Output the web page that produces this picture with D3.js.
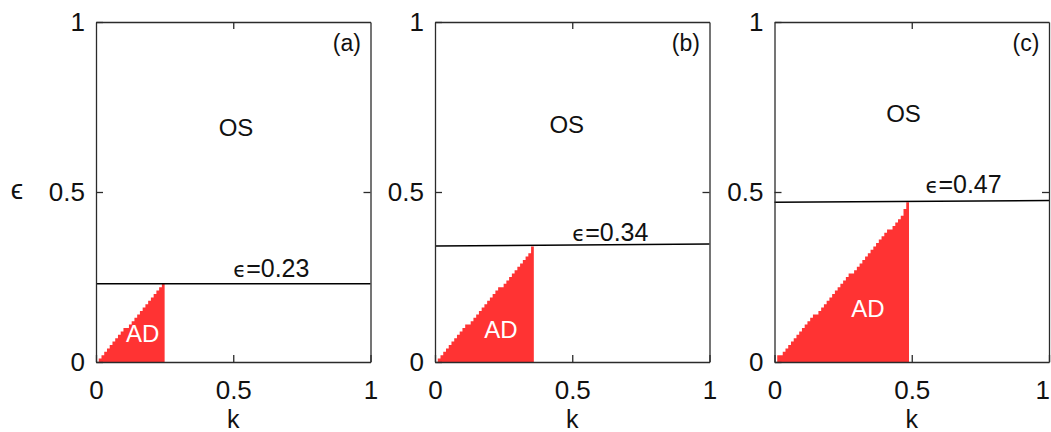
<!DOCTYPE html>
<html>
<head>
<meta charset="utf-8">
<script src="https://cdn.jsdelivr.net/npm/d3@7"></script>
<style>
  html, body { margin: 0; padding: 0; background: #fff; }
  svg { display: block; }
  text { font-family: "Liberation Sans", Arial, Helvetica, sans-serif; fill: #111; }
</style>
</head>
<body>
<svg id="chart" width="1051" height="432"></svg>
<script>
// ---- data ----
const panelLabels = ["(a)", "(b)", "(c)"];
const tickValues = [0, 0.5, 1];
const tickLabels = ["0", "0.5", "1"];
const cellWidth = 0.01;

// AD region: k (left edge of grid column) and upper epsilon bound of AD in that column
const kA = [0.01,0.02,0.03,0.04,0.05,0.06,0.07,0.08,0.09,0.10,0.11,0.12,0.13,0.14,0.15,0.16,0.17,0.18,0.19,0.20,0.21,0.22,0.23,0.24];
const topA = [0.01,0.02,0.03,0.04,0.05,0.06,0.07,0.08,0.09,0.10,0.10,0.11,0.12,0.13,0.14,0.15,0.16,0.17,0.18,0.19,0.20,0.21,0.22,0.23];

const kB = [0.01,0.02,0.03,0.04,0.05,0.06,0.07,0.08,0.09,0.10,0.11,0.12,0.13,0.14,0.15,0.16,0.17,0.18,0.19,0.20,0.21,0.22,0.23,0.24,0.25,0.26,0.27,0.28,0.29,0.30,0.31,0.32,0.33,0.34,0.35];
const topB = [0.01,0.02,0.03,0.04,0.05,0.06,0.07,0.08,0.09,0.10,0.11,0.11,0.12,0.13,0.14,0.15,0.16,0.17,0.18,0.19,0.20,0.21,0.22,0.22,0.23,0.24,0.25,0.26,0.27,0.28,0.29,0.30,0.31,0.32,0.34];

const kC = [0.01,0.02,0.03,0.04,0.05,0.06,0.07,0.08,0.09,0.10,0.11,0.12,0.13,0.14,0.15,0.16,0.17,0.18,0.19,0.20,0.21,0.22,0.23,0.24,0.25,0.26,0.27,0.28,0.29,0.30,0.31,0.32,0.33,0.34,0.35,0.36,0.37,0.38,0.39,0.40,0.41,0.42,0.43,0.44,0.45,0.46,0.47,0.48];
const topC = [0.02,0.02,0.03,0.04,0.05,0.06,0.07,0.08,0.09,0.10,0.11,0.12,0.13,0.14,0.14,0.15,0.16,0.17,0.18,0.19,0.20,0.21,0.22,0.23,0.24,0.25,0.26,0.26,0.27,0.28,0.29,0.30,0.31,0.32,0.33,0.34,0.35,0.36,0.37,0.38,0.39,0.39,0.40,0.41,0.42,0.43,0.45,0.47];

// threshold line: epsilon at k=0 and k=1
const lineA = [0.23, 0.23];
const lineB = [0.341, 0.347];
const lineC = [0.47, 0.475];
const lineLabels = ["0.23", "0.34", "0.47"];

// text annotation anchors (data coords)
const osPos = [[0.51, 0.665], [0.48, 0.675], [0.47, 0.705]];
const adPos = [[0.17, 0.06], [0.24, 0.07], [0.34, 0.133]];
const epsLabelPos = [[0.5, 0.25], [0.5, 0.357], [0.55, 0.497]];

const panels = [
  { k: kA, top: topA, line: lineA },
  { k: kB, top: topB, line: lineB },
  { k: kC, top: topC, line: lineC }
];

// ---- layout ----
const W = 1051;
const svg = d3.select("#chart");
const panelLeft = [96, 435, 774.5];
const pw = 274.5, plotTop = 22, plotBottom = 362;
const red = "#ff3333";
const axisCol = "#2b2b2b";

panels.forEach((p, i) => {
  const x = d3.scaleLinear().domain([0, 1]).range([panelLeft[i], panelLeft[i] + pw]);
  const y = d3.scaleLinear().domain([0, 1]).range([plotBottom, plotTop]);
  const g = svg.append("g");

  // AD region as a staircase built from grid columns
  const pts = p.k.map((k, j) => ({ k, e: p.top[j] }));
  const last = pts[pts.length - 1];
  pts.push({ k: last.k + cellWidth, e: last.e });
  const area = d3.area()
    .x(d => x(d.k))
    .y0(y(0))
    .y1(d => y(d.e))
    .curve(d3.curveStepAfter);
  g.append("path").attr("d", area(pts)).attr("fill", red).attr("stroke", "none");

  // threshold line
  g.append("line")
    .attr("x1", x(0)).attr("y1", y(p.line[0]))
    .attr("x2", x(1)).attr("y2", y(p.line[1]))
    .attr("stroke", "#000").attr("stroke-width", 1.6);

  // axes
  const fmt = (d) => tickLabels[tickValues.indexOf(d)];
  const axB = d3.axisBottom(x).tickValues(tickValues).tickFormat(fmt).tickSize(-7).tickSizeOuter(0).tickPadding(19);
  const axL = d3.axisLeft(y).tickValues(tickValues).tickFormat(fmt).tickSize(-7).tickSizeOuter(0).tickPadding(11);
  const axT = d3.axisTop(x).tickValues([0.5]).tickFormat("").tickSize(-7).tickSizeOuter(0);
  const axR = d3.axisRight(y).tickValues([0.5]).tickFormat("").tickSize(-7).tickSizeOuter(0);

  const gb = g.append("g").attr("transform", `translate(0,${plotBottom})`).call(axB);
  const gl = g.append("g").attr("transform", `translate(${panelLeft[i]},0)`).call(axL);
  const gt = g.append("g").attr("transform", `translate(0,${plotTop})`).call(axT);
  const gr = g.append("g").attr("transform", `translate(${panelLeft[i] + pw},0)`).call(axR);
  [gb, gl, gt, gr].forEach(a => {
    a.selectAll("path.domain").attr("stroke", axisCol).attr("stroke-width", 1.3);
    a.selectAll(".tick line").attr("stroke", axisCol).attr("stroke-width", 1.3);
    a.selectAll(".tick text").attr("font-family", "Liberation Sans, Arial, sans-serif")
      .attr("font-size", 26).attr("fill", "#111");
  });
  // keep the rightmost tick label inside the picture
  gb.selectAll(".tick text").each(function () {
    const bb = this.getBBox();
    const tr = this.parentNode.transform.baseVal.consolidate();
    const tx = tr ? tr.matrix.e : 0;
    const overflow = tx + bb.x + bb.width - (W - 1);
    if (overflow > 0) d3.select(this).attr("x", -overflow);
  });

  // x label
  g.append("text").attr("x", x(0.5)).attr("y", 428).attr("text-anchor", "middle")
    .attr("font-size", 25).text("k");

  // panel label
  g.append("text").attr("x", x(0.965)).attr("y", 51).attr("text-anchor", "end")
    .attr("font-size", 23).text(panelLabels[i]);

  // OS
  g.append("text").attr("x", x(osPos[i][0])).attr("y", y(osPos[i][1])).attr("text-anchor", "middle")
    .attr("font-size", 24).text("OS");

  // AD
  g.append("text").attr("x", x(adPos[i][0])).attr("y", y(adPos[i][1])).attr("text-anchor", "middle")
    .attr("font-size", 24).style("fill", "#fff").text("AD");

  // epsilon label
  const t = g.append("text").attr("x", x(epsLabelPos[i][0])).attr("y", y(epsLabelPos[i][1]))
    .attr("font-size", 25);
  t.append("tspan").attr("font-family", "DejaVu Sans").attr("font-size", 21).text("\u03F5");
  t.append("tspan").text("=" + lineLabels[i]);
});

// y label
svg.append("text").attr("x", 17).attr("y", 199).attr("text-anchor", "middle")
  .attr("font-family", "DejaVu Sans").attr("font-size", 28).text("\u03F5");
</script>
</body>
</html>
